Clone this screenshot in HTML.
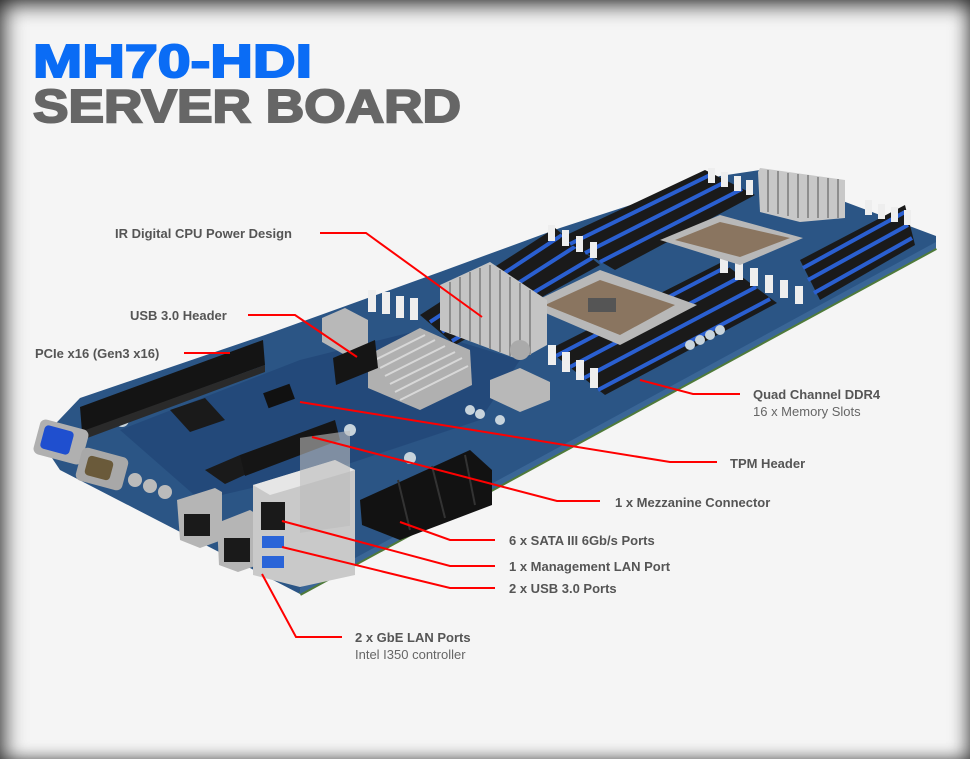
<!DOCTYPE html>
<html><head><meta charset="utf-8">
<style>
html,body{margin:0;padding:0}
body{width:970px;height:759px;overflow:hidden;background:#f5f5f5;position:relative;font-family:"Liberation Sans",Arial,sans-serif}
.vig{position:absolute;left:0;top:0;width:970px;height:759px;box-shadow:inset 0 14px 18px -6px rgba(0,0,0,.55),inset 14px 0 18px -6px rgba(0,0,0,.5),inset -12px 0 16px -6px rgba(0,0,0,.4),inset 0 -10px 14px -6px rgba(0,0,0,.25);pointer-events:none}
svg{position:absolute;left:0;top:0}
</style></head><body>
<svg width="970" height="759" viewBox="0 0 970 759">
<text x="33" y="77" font-family="Liberation Sans" font-weight="bold" font-size="46" fill="#0a6cf5" stroke="#0a6cf5" stroke-width="2" textLength="279" lengthAdjust="spacingAndGlyphs">MH70-HDI</text>
<text x="33" y="122" font-family="Liberation Sans" font-weight="bold" font-size="46" fill="#666" stroke="#666" stroke-width="2" textLength="428" lengthAdjust="spacingAndGlyphs">SERVER BOARD</text>

<!-- board -->
<polygon points="40,440 80,398 265,335 440,272 560,228 720,176 760,170 936,236 936,248 300,594 250,568 60,470" fill="#2b5585"/>
<polyline points="300,594 936,248" stroke="#4f7a3a" stroke-width="4" fill="none"/>
<polygon points="300,594 936,248 936,242 300,588" fill="#3a6696"/>
<polygon points="120,430 300,360 420,330 520,360 480,420 330,470 200,500" fill="#23497a"/>
<!-- memory banks -->
<g>
<polygon points="548,350 605,395 777,303 722,262" fill="#1a1a1a"/>
<g stroke="#2a5fd0" stroke-width="4"><line x1="556" y1="356" x2="728" y2="266"/><line x1="570" y1="367" x2="742" y2="276"/><line x1="584" y1="378" x2="756" y2="287"/><line x1="598" y1="390" x2="770" y2="299"/></g>
<polygon points="420,315 455,345 600,265 555,228" fill="#1a1a1a"/>
<g stroke="#2a5fd0" stroke-width="4"><line x1="430" y1="322" x2="562" y2="235"/><line x1="442" y1="332" x2="576" y2="246"/><line x1="452" y1="341" x2="592" y2="258"/></g>
<polygon points="560,238 615,270 755,195 705,170" fill="#1a1a1a"/>
<g stroke="#2a5fd0" stroke-width="4"><line x1="570" y1="244" x2="712" y2="174"/><line x1="585" y1="253" x2="727" y2="181"/><line x1="600" y1="262" x2="742" y2="189"/></g>
<polygon points="800,260 820,300 915,245 905,205" fill="#1a1a1a"/>
<g stroke="#2a5fd0" stroke-width="4"><line x1="803" y1="268" x2="905" y2="212"/><line x1="808" y1="280" x2="908" y2="225"/><line x1="814" y1="293" x2="912" y2="238"/></g>
<g fill="#eee"><rect x="548" y="345" width="8" height="20"/><rect x="562" y="352" width="8" height="20"/><rect x="576" y="360" width="8" height="20"/><rect x="590" y="368" width="8" height="20"/>
<rect x="720" y="255" width="8" height="18"/><rect x="735" y="262" width="8" height="18"/><rect x="750" y="268" width="8" height="18"/><rect x="765" y="275" width="8" height="18"/><rect x="780" y="280" width="8" height="18"/><rect x="795" y="286" width="8" height="18"/>
<rect x="548" y="225" width="7" height="16"/><rect x="562" y="230" width="7" height="16"/><rect x="576" y="236" width="7" height="16"/><rect x="590" y="242" width="7" height="16"/>
<rect x="708" y="168" width="7" height="15"/><rect x="721" y="172" width="7" height="15"/><rect x="734" y="176" width="7" height="15"/><rect x="746" y="180" width="7" height="15"/>
<rect x="865" y="200" width="7" height="15"/><rect x="878" y="204" width="7" height="15"/><rect x="891" y="207" width="7" height="15"/><rect x="904" y="210" width="7" height="15"/>
<rect x="368" y="290" width="8" height="22"/><rect x="382" y="292" width="8" height="22"/><rect x="396" y="296" width="8" height="22"/><rect x="410" y="298" width="8" height="22"/></g>
</g>
<!-- CPU sockets -->
<polygon points="527,305 600,270 697,305 620,345" fill="#b8b8b8"/>
<polygon points="545,305 600,280 675,305 620,335" fill="#8a7560"/>
<rect x="588" y="298" width="28" height="14" fill="#555"/>
<polygon points="660,240 720,215 803,238 740,265" fill="#b8b8b8"/>
<polygon points="675,240 720,222 790,238 740,257" fill="#8a7560"/>
<!-- heatsinks -->
<g>
<polygon points="440,285 490,262 547,300 547,345 520,360 440,330" fill="#c4c4c4"/>
<g stroke="#8e8e8e" stroke-width="2"><line x1="450" y1="282" x2="450" y2="333"/><line x1="460" y1="277" x2="460" y2="337"/><line x1="470" y1="272" x2="470" y2="341"/><line x1="480" y1="268" x2="480" y2="345"/><line x1="490" y1="265" x2="490" y2="349"/><line x1="500" y1="270" x2="500" y2="352"/><line x1="510" y1="277" x2="510" y2="356"/><line x1="520" y1="283" x2="520" y2="358"/><line x1="530" y1="290" x2="530" y2="355"/></g>
<polygon points="368,355 420,328 470,350 472,385 420,410 368,388" fill="#b0b0b0"/>
<g stroke="#d8d8d8" stroke-width="2"><line x1="375" y1="360" x2="425" y2="335"/><line x1="380" y1="368" x2="435" y2="340"/><line x1="385" y1="376" x2="445" y2="346"/><line x1="390" y1="384" x2="455" y2="352"/><line x1="395" y1="392" x2="462" y2="358"/><line x1="400" y1="400" x2="468" y2="366"/></g>
<polygon points="758,172 760,168 845,180 845,218 800,222 760,212" fill="#c8c8c8"/>
<g stroke="#8e8e8e" stroke-width="2"><line x1="768" y1="170" x2="768" y2="212"/><line x1="778" y1="171" x2="778" y2="214"/><line x1="788" y1="173" x2="788" y2="216"/><line x1="798" y1="174" x2="798" y2="218"/><line x1="808" y1="175" x2="808" y2="218"/><line x1="818" y1="177" x2="818" y2="218"/><line x1="828" y1="178" x2="828" y2="218"/><line x1="838" y1="179" x2="838" y2="218"/></g>
<polygon points="322,318 345,308 368,320 368,345 345,355 322,342" fill="#b8b8b8"/>
<polygon points="490,380 520,368 550,382 550,400 520,412 490,398" fill="#b8b8b8"/>
</g>
<g fill="#c8d4dc"><circle cx="690" cy="345" r="5"/><circle cx="700" cy="340" r="5"/><circle cx="710" cy="335" r="5"/><circle cx="720" cy="330" r="5"/><circle cx="470" cy="410" r="5"/><circle cx="480" cy="414" r="5"/><circle cx="500" cy="420" r="5"/><circle cx="410" cy="458" r="6"/><circle cx="350" cy="430" r="6"/><circle cx="122" cy="420" r="7"/></g>
<circle cx="520" cy="350" r="10" fill="#aaa"/>
<polygon points="333,358 375,340 378,368 336,385" fill="#151515"/>
<polygon points="80,407 263,340 265,365 82,432" fill="#141414"/>
<polygon points="80,432 265,365 265,372 82,440" fill="#2a2a2a"/>
<polygon points="170,410 205,398 225,420 190,432" fill="#1a1a1a"/>
<polygon points="205,470 240,455 260,468 225,484" fill="#1a1a1a"/>
<rect x="265" y="388" width="28" height="16" fill="#111" transform="rotate(-20 279 396)"/>
<polygon points="240,455 335,420 340,440 245,476" fill="#151515"/>
<polygon points="360,500 470,450 492,470 492,505 400,540 362,525" fill="#121212"/>
<g stroke="#333" stroke-width="2"><line x1="398" y1="480" x2="410" y2="530"/><line x1="432" y1="466" x2="445" y2="518"/><line x1="465" y1="455" x2="475" y2="505"/></g>
<rect x="36" y="424" width="50" height="36" rx="6" fill="#b0b0b0" transform="rotate(15 61 442)"/>
<rect x="42" y="428" width="30" height="24" rx="4" fill="#1f4fcf" transform="rotate(15 57 440)"/>
<rect x="78" y="452" width="48" height="34" rx="6" fill="#a8a8a8" transform="rotate(15 102 469)"/>
<rect x="86" y="458" width="26" height="20" rx="4" fill="#6a5a3a" transform="rotate(15 99 468)"/>
<g fill="#bbb"><circle cx="135" cy="480" r="7"/><circle cx="150" cy="486" r="7"/><circle cx="165" cy="492" r="7"/></g>
<polygon points="177,500 215,488 222,492 222,540 200,548 180,540" fill="#b5b5b5"/>
<rect x="184" y="514" width="26" height="22" fill="#1a1a1a"/>
<polygon points="217,523 250,510 258,515 258,565 238,572 219,565" fill="#b5b5b5"/>
<rect x="224" y="538" width="26" height="24" fill="#1a1a1a"/>
<polygon points="253,485 335,460 355,470 355,575 300,587 253,575" fill="#c9c9c9"/>
<polygon points="253,485 335,460 355,470 270,495" fill="#e6e6e6"/>
<rect x="261" y="502" width="24" height="28" fill="#1a1a1a"/>
<rect x="262" y="536" width="22" height="12" fill="#2a64d8"/>
<rect x="262" y="556" width="22" height="12" fill="#2a64d8"/>
<rect x="300" y="480" width="50" height="95" fill="#bdbdbd" transform="skewY(-8)" opacity=".6"/>

<g stroke="#ff0000" stroke-width="2" fill="none">
<polyline points="320,233 366,233 482,317"/>
<polyline points="248,315 295,315 357,357"/>
<polyline points="184,353 230,353"/>
<polyline points="640,380 693,394 740,394"/>
<polyline points="300,402 670,462 717,462"/>
<polyline points="312,437 557,501 600,501"/>
<polyline points="400,522 450,540 495,540"/>
<polyline points="282,521 450,566 495,566"/>
<polyline points="282,547 450,588 495,588"/>
<polyline points="262,574 296,637 342,637"/>
</g>
<g font-family="Liberation Sans" font-size="13" font-weight="bold" fill="#555">
<text x="115" y="238">IR Digital CPU Power Design</text>
<text x="130" y="320">USB 3.0 Header</text>
<text x="35" y="358">PCIe x16 (Gen3 x16)</text>
<text x="753" y="399">Quad Channel DDR4</text>
<text x="730" y="468">TPM Header</text>
<text x="615" y="507">1 x Mezzanine Connector</text>
<text x="509" y="545">6 x SATA III 6Gb/s Ports</text>
<text x="509" y="571">1 x Management LAN Port</text>
<text x="509" y="593">2 x USB 3.0 Ports</text>
<text x="355" y="642">2 x GbE LAN Ports</text>
</g>
<g font-family="Liberation Sans" font-size="13" fill="#666">
<text x="753" y="416">16 x Memory Slots</text>
<text x="355" y="659">Intel I350 controller</text>
</g>
</svg>
<div class="vig"></div>
</body></html>
